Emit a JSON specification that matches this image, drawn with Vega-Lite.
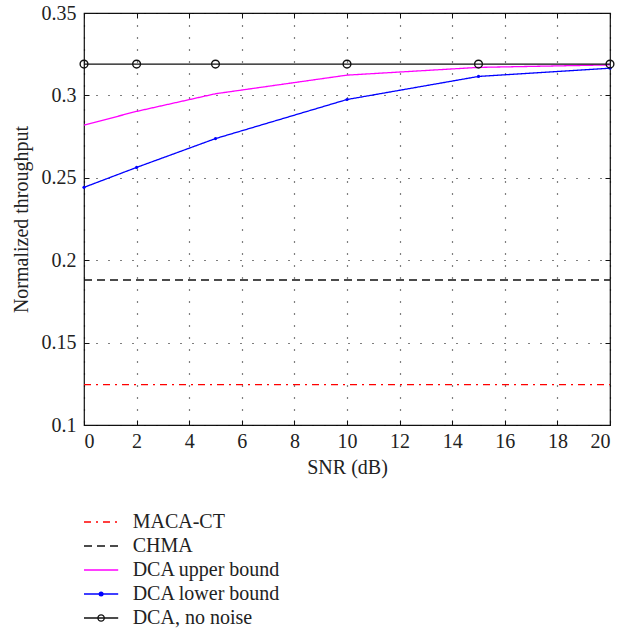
{
  "$schema": "https://vega.github.io/schema/vega-lite/v6.json",
  "padding": {"left": 10, "top": 2, "right": 2, "bottom": 5},
  "background": "white",
  "config": {
    "font": "Liberation Serif",
    "concat": {"spacing": 32}
  },
  "datasets": {
    "curves": [
      {"snr": 0, "thr": 0.1245, "series": "MACA-CT"},
      {"snr": 20, "thr": 0.1245, "series": "MACA-CT"},
      {"snr": 0, "thr": 0.188, "series": "CHMA"},
      {"snr": 20, "thr": 0.188, "series": "CHMA"},
      {"snr": 0, "thr": 0.282, "series": "DCA upper bound"},
      {"snr": 2, "thr": 0.2903, "series": "DCA upper bound"},
      {"snr": 5, "thr": 0.301, "series": "DCA upper bound"},
      {"snr": 10, "thr": 0.3123, "series": "DCA upper bound"},
      {"snr": 15, "thr": 0.317, "series": "DCA upper bound"},
      {"snr": 20, "thr": 0.3185, "series": "DCA upper bound"},
      {"snr": 0, "thr": 0.2442, "series": "DCA lower bound"},
      {"snr": 2, "thr": 0.2563, "series": "DCA lower bound"},
      {"snr": 5, "thr": 0.2738, "series": "DCA lower bound"},
      {"snr": 10, "thr": 0.2975, "series": "DCA lower bound"},
      {"snr": 15, "thr": 0.3115, "series": "DCA lower bound"},
      {"snr": 20, "thr": 0.3165, "series": "DCA lower bound"},
      {"snr": 0, "thr": 0.319, "series": "DCA, no noise"},
      {"snr": 2, "thr": 0.319, "series": "DCA, no noise"},
      {"snr": 5, "thr": 0.319, "series": "DCA, no noise"},
      {"snr": 10, "thr": 0.319, "series": "DCA, no noise"},
      {"snr": 15, "thr": 0.319, "series": "DCA, no noise"},
      {"snr": 20, "thr": 0.319, "series": "DCA, no noise"}
    ],
    "legend": [
      {"series": "MACA-CT"},
      {"series": "CHMA"},
      {"series": "DCA upper bound"},
      {"series": "DCA lower bound"},
      {"series": "DCA, no noise"}
    ]
  },
  "vconcat": [
    {
      "width": 526,
      "height": 412,
      "view": {"stroke": "#111", "strokeWidth": 1.2},
      "resolve": {"axis": {"x": "independent", "y": "independent"}},
      "layer": [
        {
          "data": {"name": "curves"},
          "mark": {"type": "line", "strokeWidth": 1.3, "clip": false},
          "encoding": {
            "x": {"field": "snr", "type": "quantitative", "scale": {"domain": [0, 20], "nice": false},
                  "axis": {"title": "SNR (dB)", "values": [0,2,4,6,8,10,12,14,16,18,20], "labelFont": "Liberation Serif", "titleFont": "Liberation Serif", "labelFontSize": 20, "titleFontSize": 20, "titleFontWeight": "normal", "labelColor": "#222", "titleColor": "#222", "tickSize": -5, "tickColor": "#111", "domain": false, "labelPadding": 11, "titlePadding": 6, "grid": true, "gridColor": "#000", "gridDash": [1, 11], "gridWidth": 1.2}},
            "y": {"field": "thr", "type": "quantitative", "scale": {"domain": [0.1, 0.35], "nice": false, "zero": false},
                  "axis": {"title": "Normalized throughput", "values": [0.1,0.15,0.2,0.25,0.3,0.35], "format": ".2~f", "labelFont": "Liberation Serif", "titleFont": "Liberation Serif", "labelFontSize": 20, "titleFontSize": 20, "titleFontWeight": "normal", "labelColor": "#222", "titleColor": "#222", "tickSize": -5, "tickColor": "#111", "domain": false, "labelPadding": 13, "titlePadding": 10, "grid": true, "gridColor": "#000", "gridDash": [1, 11], "gridWidth": 1.2}},
            "color": {"field": "series", "type": "nominal", "legend": null,
                      "scale": {"domain": ["MACA-CT", "CHMA", "DCA upper bound", "DCA lower bound", "DCA, no noise"], "range": ["#ff0000", "#111111", "#ff00ff", "#0000ff", "#111111"]}},
            "strokeDash": {"field": "series", "type": "nominal", "legend": null,
                      "scale": {"domain": ["MACA-CT", "CHMA", "DCA upper bound", "DCA lower bound", "DCA, no noise"], "range": [[7, 5, 2, 5], [8, 5], [1, 0], [1, 0], [1, 0]]}},
            "detail": {"field": "series"}
          }
        },
        {
          "data": {"name": "curves"},
          "transform": [{"filter": "datum.series === 'DCA lower bound'"}],
          "mark": {"type": "point", "filled": true, "color": "#0000ff", "size": 10, "opacity": 1},
          "encoding": {
            "x": {"field": "snr", "type": "quantitative", "axis": null},
            "y": {"field": "thr", "type": "quantitative", "axis": null}
          }
        },
        {
          "data": {"name": "curves"},
          "transform": [{"filter": "datum.series === 'DCA, no noise'"}],
          "mark": {"type": "point", "filled": false, "color": "#111", "size": 60, "strokeWidth": 1.4, "opacity": 1, "clip": false},
          "encoding": {
            "x": {"field": "snr", "type": "quantitative", "axis": {"orient": "top", "values": [0,2,4,6,8,10,12,14,16,18,20], "labels": false, "title": null, "tickSize": -5, "tickColor": "#111", "domain": false, "grid": false}},
            "y": {"field": "thr", "type": "quantitative", "axis": {"orient": "right", "values": [0.1,0.15,0.2,0.25,0.3,0.35], "labels": false, "title": null, "tickSize": -5, "tickColor": "#111", "domain": false, "grid": false}}
          }
        }
      ]
    },
    {
      "width": 526,
      "height": 120,
      "view": {"stroke": null},
      "data": {"name": "legend"},
      "encoding": {
        "y": {"field": "series", "type": "nominal", "sort": null, "axis": null, "scale": {"type": "point", "padding": 0.5}}
      },
      "layer": [
        {
          "mark": {"type": "rule", "strokeWidth": 1.3},
          "encoding": {
            "x": {"datum": 0, "type": "quantitative", "scale": {"domain": [0, 20], "nice": false}, "axis": null},
            "x2": {"datum": 1.3},
            "color": {"field": "series", "type": "nominal", "legend": null,
                      "scale": {"domain": ["MACA-CT", "CHMA", "DCA upper bound", "DCA lower bound", "DCA, no noise"], "range": ["#ff0000", "#111111", "#ff00ff", "#0000ff", "#111111"]}},
            "strokeDash": {"field": "series", "type": "nominal", "legend": null,
                      "scale": {"domain": ["MACA-CT", "CHMA", "DCA upper bound", "DCA lower bound", "DCA, no noise"], "range": [[5, 4, 2, 4], [6, 5], [1, 0], [1, 0], [1, 0]]}}
          }
        },
        {
          "transform": [{"filter": "datum.series === 'DCA lower bound'"}],
          "mark": {"type": "point", "filled": true, "color": "#0000ff", "size": 25, "opacity": 1},
          "encoding": {"x": {"datum": 0.65, "type": "quantitative"}}
        },
        {
          "transform": [{"filter": "datum.series === 'DCA, no noise'"}],
          "mark": {"type": "point", "filled": false, "color": "#111", "size": 40, "strokeWidth": 1.3, "opacity": 1},
          "encoding": {"x": {"datum": 0.65, "type": "quantitative"}}
        },
        {
          "mark": {"type": "text", "align": "left", "baseline": "middle", "fontSize": 20, "font": "Liberation Serif", "color": "#222"},
          "encoding": {
            "x": {"datum": 1.85, "type": "quantitative"},
            "text": {"field": "series"}
          }
        }
      ]
    }
  ]
}
